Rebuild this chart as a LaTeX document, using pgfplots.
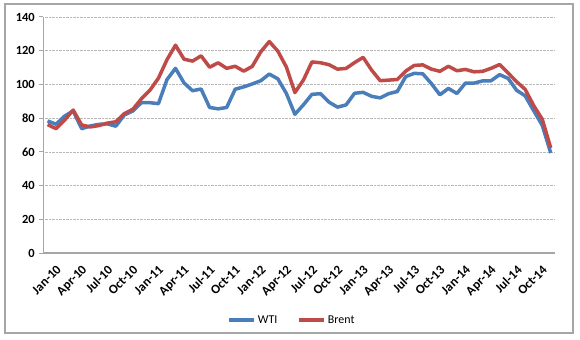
\documentclass[border=0pt]{standalone}
\usepackage{pgfplots}
\pgfplotsset{compat=1.18}
\usepackage{fontspec}
\setmainfont{Carlito}
\definecolor{wti}{HTML}{4A7EBB}
\definecolor{brent}{HTML}{BE4B48}
\definecolor{axgray}{HTML}{A6A6A6}
\begin{document}
\begin{tikzpicture}[x=1bp,y=1bp]
\useasboundingbox (0,0) rectangle (580,339);
\draw[axgray, line width=1.2bp] (5,6) rectangle (573,335);
\begin{axis}[
  at={(43.3bp,86bp)}, anchor=south west,
  scale only axis, width=511.7bp, height=236bp,
  xmin=-0.5, xmax=59.5, ymin=0, ymax=140,
  ytick={0,20,...,140},
  xtick={0,3,...,57},
  xticklabels={Jan-10,Apr-10,Jul-10,Oct-10,Jan-11,Apr-11,Jul-11,Oct-11,Jan-12,Apr-12,Jul-12,Oct-12,Jan-13,Apr-13,Jul-13,Oct-13,Jan-14,Apr-14,Jul-14,Oct-14},
  x tick style={draw=none},
  extra x ticks={-0.5,2.5,...,59.6},
  extra x tick labels={},
  extra x tick style={tick style={draw=axgray, line width=1bp}, major tick length=4bp},
  tick align=outside,
  y tick style={draw=axgray, line width=1bp}, major tick length=4bp,
  axis lines*=left,
  axis line style={-, draw=axgray, line width=1.5bp},
  ymajorgrids, grid style={densely dotted, gray!55, line width=0.6bp},
  /pgf/number format/assume math mode=true,
  yticklabel style={font=\bfseries\fontsize{12.5}{14}\selectfont, xshift=-1bp},
  xticklabel style={font=\bfseries\fontsize{13}{15}\selectfont, rotate=45, anchor=north east, inner sep=1bp, xshift=1.5bp, yshift=-10bp},
  legend style={at={(0.486,-0.284)}, anchor=center, draw=none, legend columns=2,
    font=\fontsize{12}{14}\selectfont, /tikz/every even column/.append style={column sep=18bp}},
  legend image code/.code={\draw[#1, line width=3.5bp] (0bp,0bp) -- (25bp,0bp);},
  clip=false,
]
\addplot[wti, line width=3.5bp, line join=round] coordinates {
(0,78.33)(1,76.39)(2,81.20)(3,84.29)(4,73.74)(5,75.34)(6,76.32)(7,76.60)(8,75.24)(9,81.89)(10,84.25)(11,89.15)
(12,89.17)(13,88.58)(14,102.86)(15,109.53)(16,100.90)(17,96.26)(18,97.30)(19,86.33)(20,85.52)(21,86.32)(22,97.16)(23,98.56)
(24,100.27)(25,102.20)(26,106.16)(27,103.32)(28,94.66)(29,82.30)(30,87.90)(31,94.13)(32,94.51)(33,89.49)(34,86.53)(35,87.86)
(36,94.76)(37,95.31)(38,92.94)(39,92.02)(40,94.51)(41,95.77)(42,104.67)(43,106.57)(44,106.29)(45,100.54)(46,93.86)(47,97.63)
(48,94.62)(49,100.82)(50,100.80)(51,102.07)(52,102.18)(53,105.79)(54,103.59)(55,96.54)(56,93.21)(57,84.40)(58,75.79)(59,59.29)
};
\addlegendentry{WTI}
\addplot[brent, line width=3.5bp, line join=round] coordinates {
(0,76.17)(1,73.75)(2,78.83)(3,84.82)(4,75.95)(5,74.76)(6,75.58)(7,77.04)(8,77.84)(9,82.67)(10,85.28)(11,91.45)
(12,96.52)(13,103.72)(14,114.64)(15,123.26)(16,114.99)(17,113.83)(18,116.97)(19,110.22)(20,112.83)(21,109.55)(22,110.77)(23,107.87)
(24,110.69)(25,119.33)(26,125.45)(27,119.75)(28,110.34)(29,95.16)(30,102.62)(31,113.36)(32,112.86)(33,111.71)(34,109.06)(35,109.49)
(36,112.96)(37,116.05)(38,108.47)(39,102.25)(40,102.56)(41,102.92)(42,107.93)(43,111.28)(44,111.60)(45,109.08)(46,107.79)(47,110.76)
(48,108.12)(49,108.90)(50,107.48)(51,107.76)(52,109.54)(53,111.80)(54,106.77)(55,101.61)(56,97.09)(57,87.43)(58,79.44)(59,62.34)
};
\addlegendentry{Brent}
\end{axis}
\end{tikzpicture}
\end{document}
